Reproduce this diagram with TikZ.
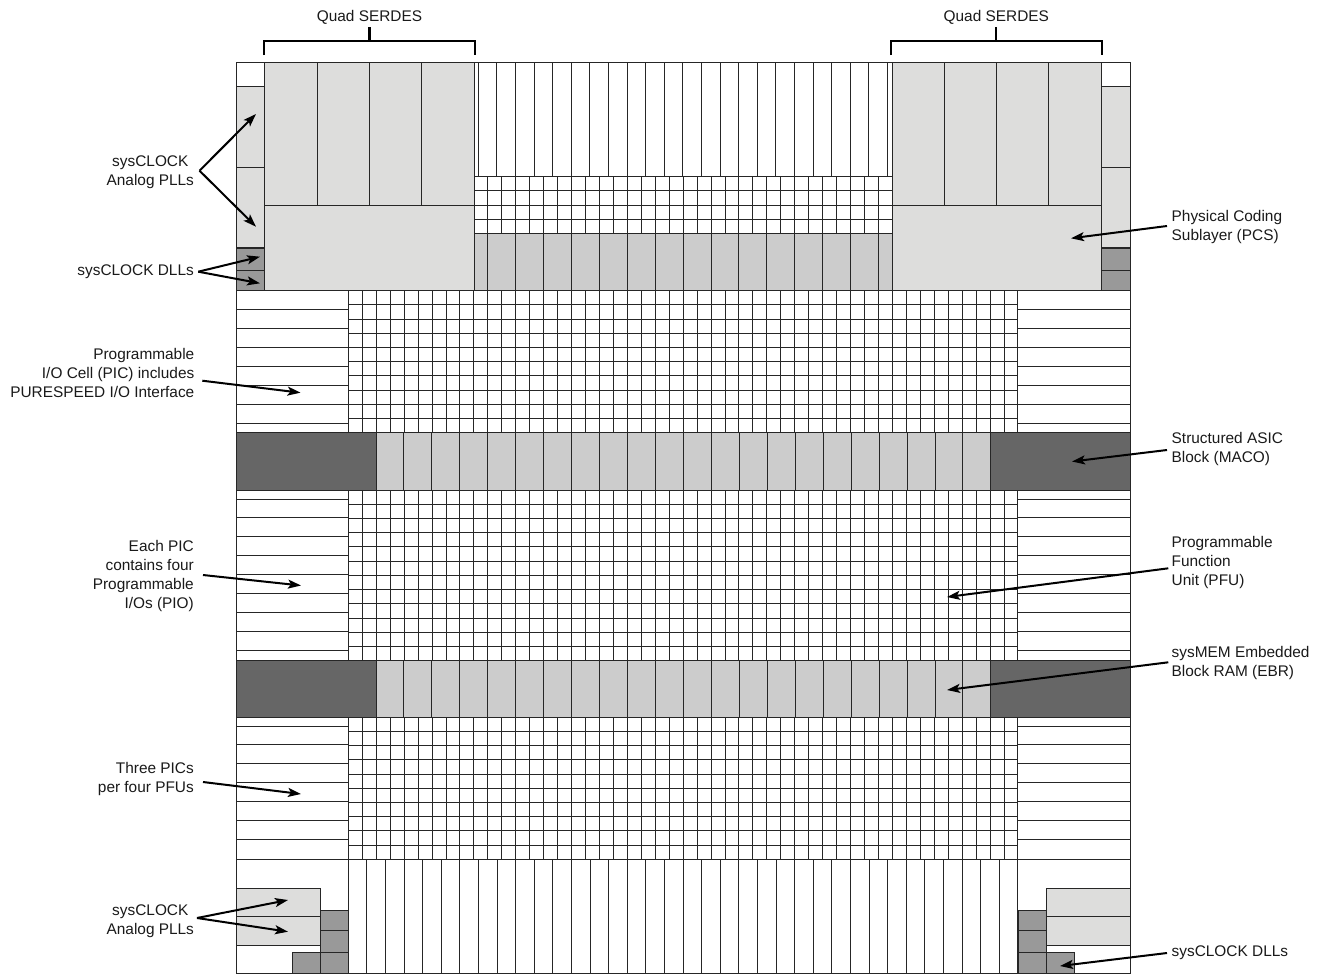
\documentclass[tikz,border=0pt]{standalone}
\usepackage{fontspec}
\setmainfont{Liberation Sans}
\usetikzlibrary{arrows.meta}
\definecolor{lightblk}{HTML}{DDDDDC}
\definecolor{midblk}{HTML}{CCCCCC}
\definecolor{dllblk}{HTML}{999999}
\definecolor{darkblk}{HTML}{666666}
\definecolor{gridline}{HTML}{262626}
\definecolor{txtink}{HTML}{1A1A1A}
\tikzset{
  cell/.style={draw=gridline,line width=0.9pt},
  lightcell/.style={cell,fill=lightblk},
  midcell/.style={cell,fill=midblk},
  dllcell/.style={cell,fill=dllblk},
  darkcell/.style={cell,fill=darkblk},
  wire/.style={draw=gridline,line width=0.9pt},
  bracket/.style={draw=black,line width=2.2pt},
  pointer/.style={draw=black,line width=2pt,-{Stealth[length=13pt,width=9pt,inset=3pt]}},
  lbltext/.style={inner sep=0pt,text=txtink,font=\fontsize{15.4}{19}\selectfont},
  lblL/.style={lbltext,anchor=east,align=right},
  lblR/.style={lbltext,anchor=west,align=left},
  lblC/.style={lbltext,anchor=center,align=center}
}
\begin{document}
\begin{tikzpicture}[x=1pt,y=-1pt]
\useasboundingbox (0,0) rectangle (1325,977);
\fill[white] (0,0) rectangle (1325,977);
% ---- outline
\draw[wire] (236.7,62.7) rectangle (1130,973.7);
% ---- PFU grids
\foreach \k in {0,...,48}{
  \pgfmathsetmacro\gx{348.3+13.95*\k}
  \draw[wire] (\gx,290.7) -- (\gx,432.7);
  \draw[wire] (\gx,490) -- (\gx,660.7);
  \draw[wire] (\gx,717.3) -- (\gx,859.3);
}
\foreach \k in {0,...,10}{
  \pgfmathsetmacro\gy{290.7+14.2*\k}
  \draw[wire] (348.3,\gy) -- (1018,\gy);
  \pgfmathsetmacro\gz{717.3+14.2*\k}
  \draw[wire] (348.3,\gz) -- (1018,\gz);
}
\foreach \k in {0,...,12}{
  \pgfmathsetmacro\gy{490+14.225*\k}
  \draw[wire] (348.3,\gy) -- (1018,\gy);
}
% ---- upper middle grid
\foreach \k in {9,...,39}{
  \pgfmathsetmacro\gx{348.3+13.95*\k}
  \draw[wire] (\gx,176.7) -- (\gx,233.3);
}
\foreach \yy in {176.7,190.8,205,219.2,233.3}{
  \draw[wire] (474.3,\yy) -- (892.3,\yy);
}
% ---- long columns, top and bottom
\foreach \k in {0,...,22}{
  \pgfmathsetmacro\gx{478.3+18.6*\k}
  \draw[wire] (\gx,62.7) -- (\gx,176.7);
}
\draw[wire] (474.3,62.7) -- (474.3,176.7);
\foreach \k in {0,...,36}{
  \pgfmathsetmacro\gx{348.3+18.6*\k}
  \draw[wire] (\gx,859.3) -- (\gx,973.7);
}
% ---- PIC rows
\foreach \yy in {290.7,309.6,328.5,347.4,366.3,385.2,404.1,423}{
  \draw[wire] (236.7,\yy) -- (348.3,\yy);
  \draw[wire] (1018,\yy) -- (1130,\yy);
}
\foreach \yy in {499,517.9,536.8,555.7,574.6,593.5,612.4,631.3,650.3}{
  \draw[wire] (236.7,\yy) -- (348.3,\yy);
  \draw[wire] (1018,\yy) -- (1130,\yy);
}
\foreach \yy in {726,744.9,763.8,782.7,801.6,820.5,839.4,859.3}{
  \draw[wire] (236.7,\yy) -- (348.3,\yy);
  \draw[wire] (1018,\yy) -- (1130,\yy);
}
% ---- gray strip under upper grid
\draw[midcell] (474.3,233.3) rectangle (892.3,290.7);
\foreach \k in {0,...,14}{
  \pgfmathsetmacro\gx{487.8+27.9*\k}
  \draw[wire] (\gx,233.3) -- (\gx,290.7);
}
% ---- EBR bars
\foreach \ya/\yb in {432.7/490,660.7/717.3}{
  \draw[midcell] (376.3,\ya) rectangle (990,\yb);
  \foreach \k in {0,...,20}{
    \pgfmathsetmacro\gx{403.9+27.95*\k}
    \draw[wire] (\gx,\ya) -- (\gx,\yb);
  }
  \draw[darkcell] (236.7,\ya) rectangle (376.3,\yb);
  \draw[darkcell] (990,\ya) rectangle (1130,\yb);
}
% ---- SERDES blocks
\foreach \xa/\xb/\xc/\xd/\xe in {264.3/317/369.3/421.7/474.3,892.3/944/996.3/1048.3/1101.7}{
  \draw[lightcell] (\xa,62.7) rectangle (\xe,205);
  \draw[wire] (\xb,62.7) -- (\xb,205);
  \draw[wire] (\xc,62.7) -- (\xc,205);
  \draw[wire] (\xd,62.7) -- (\xd,205);
  \draw[lightcell] (\xa,205) rectangle (\xe,290.7);
}
% ---- top corner PLL / DLL columns
\foreach \xa/\xb in {236.7/264.3,1101.7/1130}{
  \draw[lightcell] (\xa,86.3) rectangle (\xb,167);
  \draw[lightcell] (\xa,167) rectangle (\xb,247.7);
  \draw[dllcell] (\xa,248.7) rectangle (\xb,270);
  \draw[dllcell] (\xa,270) rectangle (\xb,290.7);
}
% ---- bottom corners
\draw[lightcell] (236.7,888.3) rectangle (320.3,916.3);
\draw[lightcell] (236.7,916.3) rectangle (320.3,945.3);
\draw[lightcell] (1046,888.3) rectangle (1130,916.3);
\draw[lightcell] (1046,916.3) rectangle (1130,945.3);
\foreach \xa/\xb in {320.3/348.3,1018/1046}{
  \draw[dllcell] (\xa,910) rectangle (\xb,930.7);
  \draw[dllcell] (\xa,930.7) rectangle (\xb,952.3);
  \draw[dllcell] (\xa,952.3) rectangle (\xb,973.7);
}
\draw[dllcell] (292.3,952.3) rectangle (320.3,973.7);
\draw[dllcell] (1046,952.3) rectangle (1074,973.7);
% ---- brackets
\node[lblC] (qsL) at (369.5,17) {Quad SERDES};
\node[lblC] (qsR) at (996.3,17) {Quad SERDES};
\coordinate (bL) at (369.5,41);
\coordinate (bR) at (996.3,41);
\coordinate (sL) at (369.5,27);
\coordinate (sR) at (996.3,27);
\draw[bracket] (264.3,55) -- (264.3,41) -- (475,41) -- (475,55);
\draw[bracket] (bL) -- (sL);
\draw[bracket] (890.7,55) -- (890.7,41) -- (1101.7,41) -- (1101.7,55);
\draw[bracket] (bR) -- (sR);
% ---- labels
\node[lblC] (pllT) at (150.3,171.8) {sysCLOCK\\Analog PLLs};
\node[lblL] (dllT) at (194,272) {sysCLOCK DLLs};
\node[lblL] (pic) at (194.5,372.8) {Programmable\\I/O Cell (PIC) includes\\PURESPEED I/O Interface};
\node[lblL] (each) at (194,576.3) {Each PIC\\contains four\\Programmable\\I/Os (PIO)};
\node[lblL] (three) at (194,779.3) {Three PICs\\per four PFUs};
\node[lblC] (pllB) at (150.3,921.3) {sysCLOCK\\Analog PLLs};
\node[lblR] (pcs) at (1171.5,227.3) {Physical Coding\\Sublayer (PCS)};
\node[lblR] (maco) at (1171.5,449.3) {Structured ASIC\\Block (MACO)};
\node[lblR] (pfu) at (1171.5,562.5) {Programmable\\Function\\Unit (PFU)};
\node[lblR] (ebr) at (1171.5,663.3) {sysMEM Embedded\\Block RAM (EBR)};
\node[lblR] (dllB) at (1171.5,952.3) {sysCLOCK DLLs};
% ---- arrow ends
\coordinate (aPll) at (199.5,170.7);
\coordinate (tPll1) at (256,114);
\coordinate (tPll2) at (256,226.7);
\coordinate (aDll) at (198.3,271.7);
\coordinate (tDll1) at (260,256.7);
\coordinate (tDll2) at (260,283.3);
\coordinate (aPic) at (202.3,380.7);
\coordinate (tPic) at (300.5,392.7);
\coordinate (aEach) at (203,575);
\coordinate (tEach) at (301,585.5);
\coordinate (aThree) at (203,782);
\coordinate (tThree) at (301,794);
\coordinate (aPllB) at (197,918);
\coordinate (tPllB1) at (288,900);
\coordinate (tPllB2) at (288,931.7);
\coordinate (aPcs) at (1167,226);
\coordinate (tPcs) at (1071,238.3);
\coordinate (aMaco) at (1167,450);
\coordinate (tMaco) at (1072,461.5);
\coordinate (aPfu) at (1168.3,568.3);
\coordinate (tPfu) at (947,597);
\coordinate (aEbr) at (1168.3,662.3);
\coordinate (tEbr) at (947,690);
\coordinate (aDllB) at (1167,953);
\coordinate (tDllB) at (1060,966);
\draw[pointer] (aPll) -- (tPll1);
\draw[pointer] (aPll) -- (tPll2);
\draw[pointer] (aDll) -- (tDll1);
\draw[pointer] (aDll) -- (tDll2);
\draw[pointer] (aPic) -- (tPic);
\draw[pointer] (aEach) -- (tEach);
\draw[pointer] (aThree) -- (tThree);
\draw[pointer] (aPllB) -- (tPllB1);
\draw[pointer] (aPllB) -- (tPllB2);
\draw[pointer] (aPcs) -- (tPcs);
\draw[pointer] (aMaco) -- (tMaco);
\draw[pointer] (aPfu) -- (tPfu);
\draw[pointer] (aEbr) -- (tEbr);
\draw[pointer] (aDllB) -- (tDllB);
\end{tikzpicture}
\end{document}
